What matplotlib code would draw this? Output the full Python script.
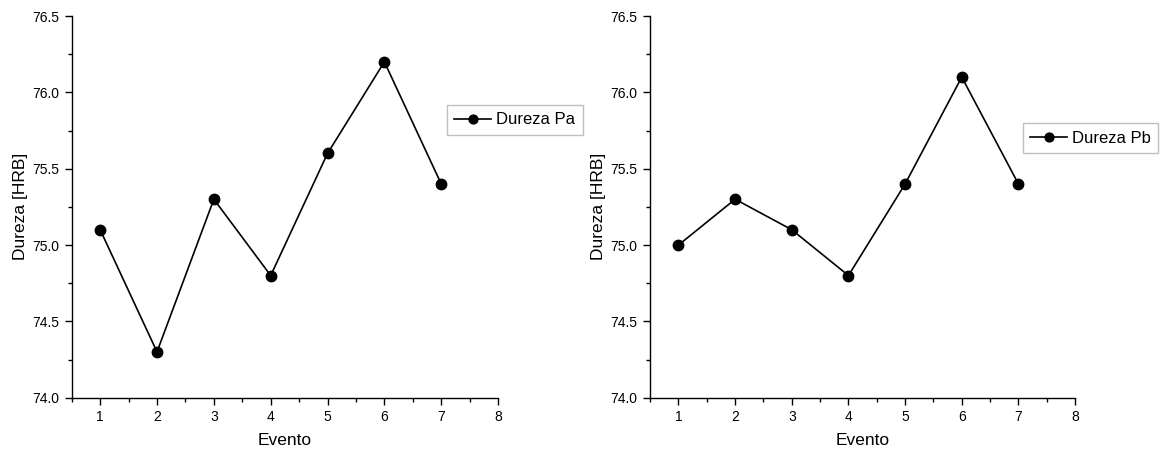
import matplotlib
matplotlib.use("Agg")
import matplotlib.pyplot as plt
from matplotlib.ticker import MultipleLocator

plt.rcParams['font.family'] = ['Liberation Sans', 'DejaVu Sans']

eventos = [1, 2, 3, 4, 5, 6, 7]
dureza_pa = [75.1, 74.3, 75.3, 74.8, 75.6, 76.2, 75.4]
dureza_pb = [75.0, 75.3, 75.1, 74.8, 75.4, 76.1, 75.4]
labels = ["Dureza Pa", "Dureza Pb"]

fig = plt.figure(figsize=(11.61, 4.58), dpi=100)
ax1 = fig.add_axes([0.0618, 0.1317, 0.3672, 0.8333])
ax2 = fig.add_axes([0.5600, 0.1317, 0.3660, 0.8333])

legend_pos = [(0.385, 0.771), (0.881, 0.731)]

for ax, y, lab, lp in zip([ax1, ax2], [dureza_pa, dureza_pb], labels, legend_pos):
    ax.plot(eventos, y, color='black', lw=1.2, marker='o', ms=7.5, label=lab)
    ax.set_xlim(0.5, 8)
    ax.set_ylim(74.0, 76.5)
    ax.xaxis.set_major_locator(MultipleLocator(1))
    ax.xaxis.set_minor_locator(MultipleLocator(0.5))
    ax.yaxis.set_major_locator(MultipleLocator(0.5))
    ax.yaxis.set_minor_locator(MultipleLocator(0.25))
    ax.yaxis.set_major_formatter(matplotlib.ticker.FormatStrFormatter('%.1f'))
    for s in ['top', 'right']:
        ax.spines[s].set_visible(False)
    for s in ['left', 'bottom']:
        ax.spines[s].set_linewidth(1.0)
    ax.tick_params(which='major', direction='out', length=5, width=1.0, labelsize=10, pad=4)
    ax.tick_params(which='minor', direction='out', length=3, width=1.0)
    ax.set_xlabel('Evento', fontsize=12.5, labelpad=6)
    ax.set_ylabel('Dureza [HRB]', fontsize=12.5, labelpad=3)
    leg = ax.legend(loc='upper left', bbox_to_anchor=lp, bbox_transform=fig.transFigure,
                    fontsize=12, frameon=True, fancybox=False, handlelength=2.2,
                    handletextpad=0.3, borderpad=0.45, borderaxespad=0, markerscale=0.85)
    leg.get_frame().set_edgecolor('#b0b0b0')
    leg.get_frame().set_linewidth(1.0)

fig.savefig('out.png', dpi=100)
